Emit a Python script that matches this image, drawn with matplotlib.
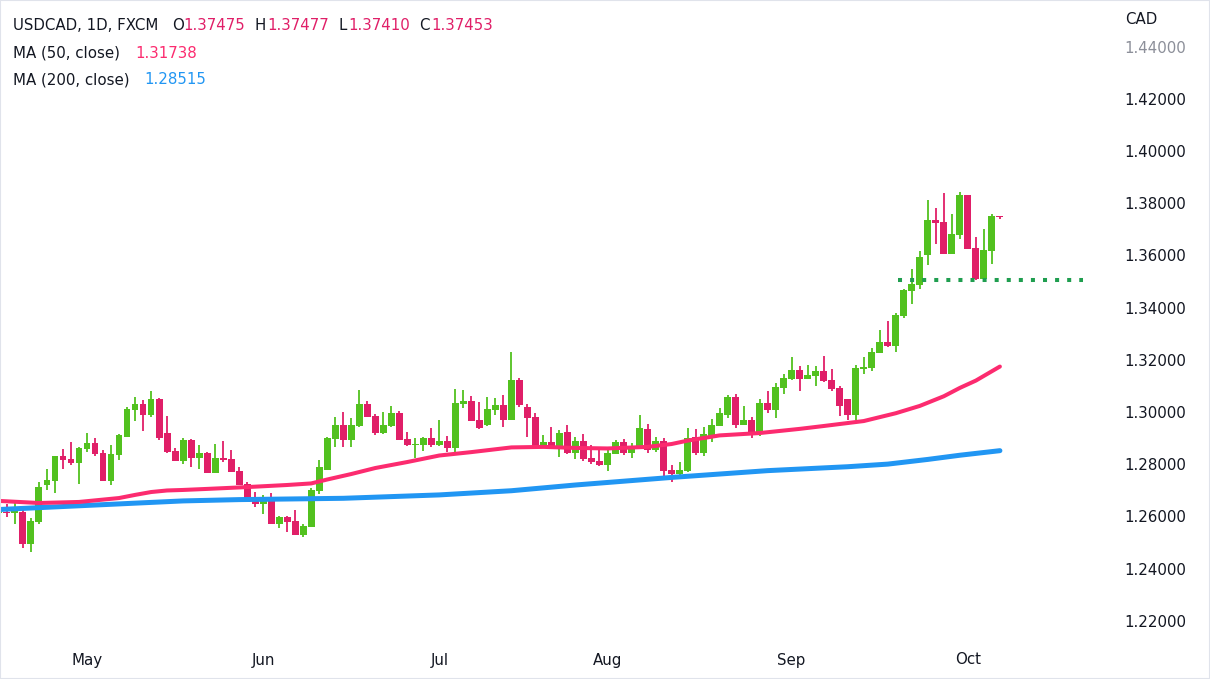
import matplotlib
matplotlib.use("Agg")
import matplotlib.pyplot as plt
import numpy as np
import pandas as pd
from matplotlib.patches import Rectangle
from matplotlib.ticker import FormatStrFormatter

# daily USDCAD candles (FXCM, 15 Apr - 7 Oct)
dates = pd.bdate_range("2022-04-15", periods=126)

opens = [
    1.2612, 1.2616, 1.2613, 1.2617, 1.2494, 1.2578, 1.2720, 1.2735, 1.2831, 1.2820,
    1.2804, 1.2858, 1.2881, 1.2843, 1.2735, 1.2835, 1.2904, 1.3007, 1.3030, 1.2988,
    1.3050, 1.2919, 1.2850, 1.2812, 1.2893, 1.2824, 1.2843, 1.2766, 1.2824, 1.2820,
    1.2774, 1.2724, 1.2659, 1.2647, 1.2663, 1.2571, 1.2598, 1.2582, 1.2529, 1.2559,
    1.2697, 1.2778, 1.2896, 1.2950, 1.2893, 1.2946, 1.3030, 1.2984, 1.2919, 1.2946,
    1.2996, 1.2896, 1.2873, 1.2873, 1.2900, 1.2873, 1.2888, 1.2862, 1.3030, 1.3042,
    1.2969, 1.2950, 1.3007, 1.3027, 1.2969, 1.3122, 1.3019, 1.2981, 1.2869, 1.2885,
    1.2866, 1.2923, 1.2843, 1.2889, 1.2824, 1.2812, 1.2797, 1.2839, 1.2885, 1.2843,
    1.2869, 1.2934, 1.2854, 1.2889, 1.2778, 1.2762, 1.2774, 1.2904, 1.2843, 1.2905,
    1.2946, 1.2988, 1.3057, 1.2950, 1.2969, 1.2923, 1.3034, 1.3007, 1.3092, 1.3126,
    1.3161, 1.3126, 1.3138, 1.3157, 1.3122, 1.3092, 1.3050, 1.2988, 1.3164, 1.3168,
    1.3225, 1.3268, 1.3253, 1.3368, 1.3464, 1.3487, 1.3601, 1.3735, 1.3728, 1.3605,
    1.3678, 1.3831, 1.3628, 1.3509, 1.3617, 1.37475,
]
highs = [
    1.2630, 1.2647, 1.2651, 1.2628, 1.2594, 1.2731, 1.2781, 1.2831, 1.2858, 1.2885,
    1.2866, 1.2919, 1.2900, 1.2854, 1.2873, 1.2915, 1.3019, 1.3057, 1.3046, 1.3080,
    1.3054, 1.2984, 1.2862, 1.2900, 1.2896, 1.2873, 1.2846, 1.2877, 1.2889, 1.2854,
    1.2789, 1.2731, 1.2693, 1.2682, 1.2689, 1.2601, 1.2601, 1.2624, 1.2571, 1.2708,
    1.2816, 1.2904, 1.2981, 1.3000, 1.2977, 1.3084, 1.3042, 1.2992, 1.3000, 1.3023,
    1.3004, 1.2923, 1.2900, 1.2904, 1.2938, 1.2969, 1.2908, 1.3088, 1.3084, 1.3061,
    1.3038, 1.3057, 1.3054, 1.3065, 1.3230, 1.3130, 1.3031, 1.2996, 1.2912, 1.2942,
    1.2931, 1.2950, 1.2904, 1.2915, 1.2873, 1.2854, 1.2854, 1.2893, 1.2896, 1.2881,
    1.2988, 1.2954, 1.2904, 1.2900, 1.2797, 1.2808, 1.2938, 1.2934, 1.2942, 1.2973,
    1.3015, 1.3065, 1.3069, 1.3023, 1.2981, 1.3050, 1.3080, 1.3111, 1.3145, 1.3210,
    1.3176, 1.3180, 1.3176, 1.3214, 1.3164, 1.3099, 1.3050, 1.3180, 1.3210, 1.3245,
    1.3314, 1.3349, 1.3379, 1.3471, 1.3548, 1.3617, 1.3812, 1.3781, 1.3839, 1.3758,
    1.3843, 1.3831, 1.3670, 1.3701, 1.3758, 1.37477,
]
lows = [
    1.2608, 1.2598, 1.2571, 1.2478, 1.2463, 1.2571, 1.2701, 1.2689, 1.2781, 1.2797,
    1.2724, 1.2846, 1.2831, 1.2735, 1.2720, 1.2816, 1.2904, 1.2965, 1.2927, 1.2980,
    1.2893, 1.2843, 1.2812, 1.2800, 1.2789, 1.2781, 1.2766, 1.2766, 1.2808, 1.2770,
    1.2720, 1.2655, 1.2636, 1.2609, 1.2571, 1.2555, 1.2540, 1.2529, 1.2521, 1.2559,
    1.2685, 1.2778, 1.2866, 1.2866, 1.2866, 1.2942, 1.2980, 1.2912, 1.2915, 1.2942,
    1.2893, 1.2869, 1.2824, 1.2850, 1.2866, 1.2869, 1.2846, 1.2846, 1.3015, 1.2965,
    1.2934, 1.2946, 1.2988, 1.2942, 1.2969, 1.3019, 1.2904, 1.2869, 1.2866, 1.2866,
    1.2827, 1.2839, 1.2820, 1.2812, 1.2800, 1.2793, 1.2774, 1.2839, 1.2835, 1.2824,
    1.2869, 1.2843, 1.2846, 1.2755, 1.2732, 1.2743, 1.2770, 1.2835, 1.2831, 1.2885,
    1.2946, 1.2977, 1.2938, 1.2950, 1.2900, 1.2908, 1.2996, 1.2977, 1.3069, 1.3122,
    1.3080, 1.3126, 1.3099, 1.3115, 1.3080, 1.2984, 1.2969, 1.2969, 1.3145, 1.3157,
    1.3225, 1.3249, 1.3229, 1.3360, 1.3414, 1.3471, 1.3563, 1.3643, 1.3605, 1.3605,
    1.3662, 1.3624, 1.3506, 1.3509, 1.3567, 1.37410,
]
closes = [
    1.2627, 1.2614, 1.2620, 1.2494, 1.2582, 1.2712, 1.2739, 1.2831, 1.2816, 1.2804,
    1.2862, 1.2881, 1.2839, 1.2735, 1.2839, 1.2912, 1.3011, 1.3030, 1.2988, 1.3050,
    1.2900, 1.2847, 1.2812, 1.2893, 1.2824, 1.2843, 1.2766, 1.2824, 1.2816, 1.2770,
    1.2720, 1.2655, 1.2647, 1.2663, 1.2571, 1.2598, 1.2578, 1.2529, 1.2563, 1.2701,
    1.2789, 1.2900, 1.2950, 1.2893, 1.2950, 1.3030, 1.2980, 1.2919, 1.2950, 1.2996,
    1.2893, 1.2873, 1.2877, 1.2900, 1.2873, 1.2888, 1.2862, 1.3034, 1.3042, 1.2965,
    1.2938, 1.3011, 1.3027, 1.2969, 1.3122, 1.3027, 1.2977, 1.2869, 1.2885, 1.2866,
    1.2919, 1.2843, 1.2889, 1.2820, 1.2808, 1.2797, 1.2843, 1.2885, 1.2843, 1.2869,
    1.2938, 1.2854, 1.2889, 1.2774, 1.2762, 1.2778, 1.2900, 1.2843, 1.2915, 1.2950,
    1.2996, 1.3057, 1.2950, 1.2969, 1.2923, 1.3034, 1.3007, 1.3096, 1.3130, 1.3161,
    1.3126, 1.3141, 1.3157, 1.3118, 1.3088, 1.3023, 1.2988, 1.3168, 1.3172, 1.3229,
    1.3268, 1.3253, 1.3372, 1.3467, 1.3490, 1.3594, 1.3735, 1.3724, 1.3605, 1.3682,
    1.3831, 1.3624, 1.3509, 1.3621, 1.3751, 1.37453,
]

# moving averages at these candle indices
ma50_idx = [0, 5, 10, 13, 15, 17, 19, 21, 23, 26, 31, 36, 39, 41, 44, 47, 51, 55,
            59, 64, 68, 72, 76, 81, 84, 86, 90, 95, 100, 103, 108, 112, 115, 118,
            120, 122, 125]
ma50_val = [1.2659, 1.2651, 1.2655, 1.2664, 1.2670, 1.2682, 1.2693, 1.2699, 1.2701,
            1.2705, 1.2712, 1.2720, 1.2726, 1.2741, 1.2762, 1.2785, 1.2808, 1.2833,
            1.2846, 1.2864, 1.2866, 1.2862, 1.2860, 1.2866, 1.2877, 1.2890, 1.2910,
            1.2919, 1.2935, 1.2946, 1.2965, 1.2995, 1.3023, 1.3060, 1.3092, 1.3120,
            1.31738]
ma200_idx = [0, 23, 30, 43, 55, 64, 72, 84, 96, 106, 111, 116, 120, 125]
ma200_val = [1.2626, 1.2659, 1.2664, 1.2669, 1.2682, 1.2698, 1.2720, 1.2749, 1.2775,
             1.2790, 1.2800, 1.2818, 1.2834, 1.28515]

support_level = 1.3505
support_span = (112.3, 135.4)

y_ticks = [1.22, 1.24, 1.26, 1.28, 1.30, 1.32, 1.34, 1.36, 1.38, 1.40, 1.42, 1.44]

UP = "#52c11f"
DOWN = "#e01f68"
MA50_C = "#fc2b6f"
MA200_C = "#2196f3"
TXT = "#131722"
FS = 10.8

plt.rcParams["font.family"] = ["DejaVu Sans"]

W, H = 1210, 679
fig = plt.figure(figsize=(W / 100, H / 100), dpi=100)
ax = fig.add_axes([0, (H - 640) / H, 1108 / W, 640 / H])

o = np.array(opens)
c = np.array(closes)
hi = np.array(highs)
lo = np.array(lows)
x = np.arange(len(o))
up = c >= o
col = np.where(up, UP, DOWN)

ax.vlines(x, lo, hi, color=col, linewidth=1.3, zorder=2)
body = np.maximum(np.abs(c - o), 0.0004)
ax.bar(x, body, bottom=np.minimum(o, c), width=0.86, color=col, linewidth=0, zorder=3)

ax.plot(ma200_idx, ma200_val, color=MA200_C, lw=3.6, solid_capstyle="round",
        solid_joinstyle="round", zorder=4)
ax.plot(ma50_idx, ma50_val, color=MA50_C, lw=2.9, solid_capstyle="round",
        solid_joinstyle="round", zorder=4)

ax.plot(support_span, [support_level] * 2, color="#1f9e4f", lw=2.9,
        linestyle=(0, (1, 2)), dash_capstyle="butt", zorder=5)

ax.set_xlim(0.137, 138.5)
ax.set_ylim(1.21261, 1.45782)

months = pd.Series(dates.month)
first = np.flatnonzero(months.ne(months.shift()).to_numpy())[1:]
ax.set_xticks(first)
ax.set_xticklabels([dates[i].strftime("%b") for i in first])
ax.tick_params(axis="x", length=0, pad=9, labelsize=FS, labelcolor=TXT)

ax.yaxis.tick_right()
ax.set_yticks(y_ticks)
ax.yaxis.set_major_formatter(FormatStrFormatter("%.5f"))
ax.tick_params(axis="y", length=0, pad=12, labelsize=FS, labelcolor=TXT)
for lab in ax.get_yticklabels():
    if lab.get_text() == "1.44000":
        lab.set_color("#8c8f99")

for s in ax.spines.values():
    s.set_visible(False)

# legend header, placed piece by piece like the terminal does
def put(px, py, s, color=TXT):
    fig.text(px / W, 1 - py / H, s, color=color, fontsize=FS, va="center", ha="left")

put(13, 25, "USDCAD, 1D, FXCM")
put(172, 25, "O")
put(183, 25, f"{opens[-1]:.5f}", DOWN)
put(255, 25, "H")
put(267, 25, f"{highs[-1]:.5f}", DOWN)
put(338, 25, "L")
put(348, 25, f"{lows[-1]:.5f}", DOWN)
put(419, 25, "C")
put(431, 25, f"{closes[-1]:.5f}", DOWN)
put(13, 53, "MA (50, close)")
put(135, 53, f"{ma50_val[-1]:.5f}", MA50_C)
put(13, 80, "MA (200, close)")
put(144, 80, f"{ma200_val[-1]:.5f}", MA200_C)
put(1125, 20, "CAD")

fig.patches.append(Rectangle((0, 0), 1, 1, transform=fig.transFigure, fill=False,
                             edgecolor="#e0e3eb", linewidth=1.5))

fig.savefig("out.png", dpi=100)
